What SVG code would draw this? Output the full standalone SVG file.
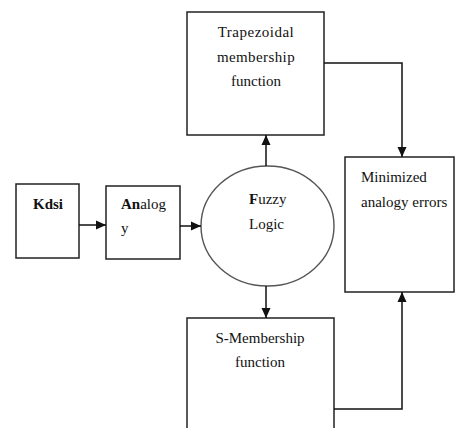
<svg xmlns="http://www.w3.org/2000/svg" width="455" height="428" viewBox="0 0 455 428">
<style>
.box{fill:#fff;stroke:#222;stroke-width:1.5}
.ell{fill:#fff;stroke:#555;stroke-width:1.4}
.t{font-family:"Liberation Serif","Times New Roman",serif;font-size:15px;fill:#111}
.c{text-anchor:middle}
.b{font-weight:bold}
.conn{fill:none;stroke:#111;stroke-width:1.5}
</style>
<defs>
<marker id="ah" markerUnits="userSpaceOnUse" markerWidth="10" markerHeight="10" refX="10" refY="5" orient="auto">
<path d="M0,0.5 L10,5 L0,9.5 z" fill="#111"/>
</marker>
</defs>
<rect width="455" height="428" fill="#fff"/>
<g id="kdsi">
<rect class="box" x="16" y="184" width="63" height="74"/>
<text class="t b" x="33" y="209">Kdsi</text>
</g>
<g id="analogy">
<rect class="box" x="106" y="186" width="74" height="73"/>
<text class="t" x="121" y="209"><tspan class="b">An</tspan>alog</text>
<text class="t" x="121" y="233">y</text>
</g>
<g id="fuzzy">
<ellipse class="ell" cx="267.5" cy="226" rx="66.5" ry="60"/>
<text class="t" x="249" y="204"><tspan class="b">F</tspan>uzzy</text>
<text class="t" x="249" y="229">Logic</text>
</g>
<g id="trap">
<rect class="box" x="187" y="12" width="137" height="123"/>
<text class="t c" x="256" y="37" letter-spacing="0.5">Trapezoidal</text>
<text class="t c" x="256" y="62" letter-spacing="0.4">membership</text>
<text class="t c" x="256" y="86">function</text>
</g>
<g id="smem">
<rect class="box" x="187" y="318" width="147" height="120"/>
<text class="t c" x="260" y="343">S-Membership</text>
<text class="t c" x="260" y="367">function</text>
</g>
<g id="minimized">
<rect class="box" x="345" y="157" width="109" height="135"/>
<text class="t" x="361" y="182">Minimized</text>
<text class="t" x="361" y="207">analogy errors</text>
</g>
<g id="connectors">
<line class="conn" x1="79" y1="225" x2="106" y2="225" marker-end="url(#ah)"/>
<line class="conn" x1="180" y1="226" x2="201" y2="226" marker-end="url(#ah)"/>
<line class="conn" x1="266" y1="166" x2="266" y2="135" marker-end="url(#ah)"/>
<line class="conn" x1="266" y1="286" x2="266" y2="318" marker-end="url(#ah)"/>
<path class="conn" d="M324 63 H402 V157" marker-end="url(#ah)"/>
<path class="conn" d="M334 409 H402 V292" marker-end="url(#ah)"/>
</g>
</svg>
